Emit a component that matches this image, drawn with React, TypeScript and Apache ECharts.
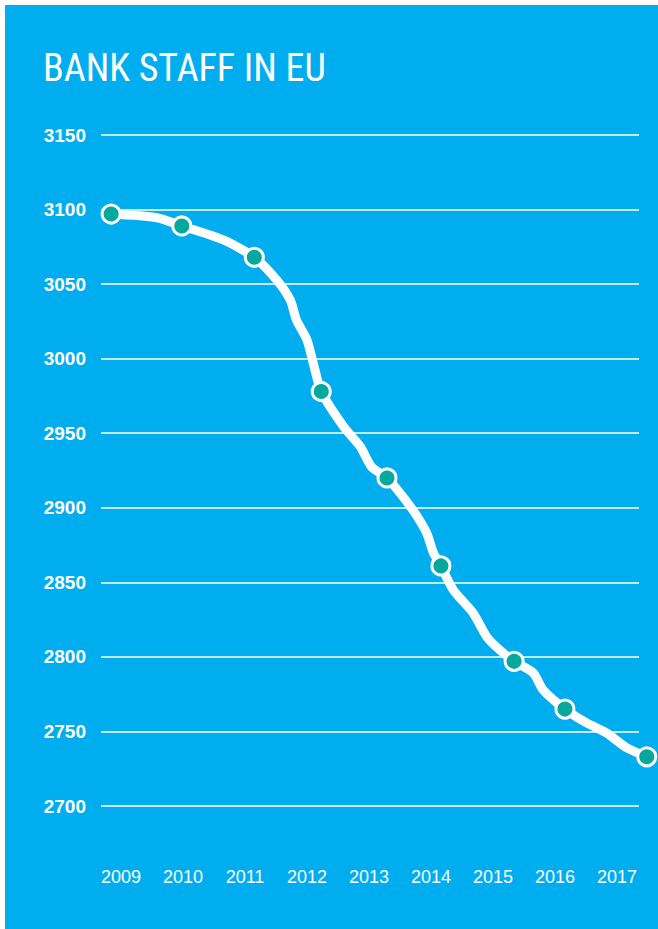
import React, { useEffect, useRef } from "react";
import * as echarts from "echarts";

const yearLabels = [2009, 2010, 2011, 2012, 2013, 2014, 2015, 2016, 2017];
// horizontal position of each marker, in year units on the value axis
const markerPos = [2008.84, 2009.98, 2011.15, 2012.23, 2013.29, 2014.16, 2015.34, 2016.16, 2017.48];
const staff = [3097, 3089, 3068, 2978, 2920, 2861, 2797, 2765, 2733];
const tracePos = [
  2009.58, 2010.65, 2011.51, 2011.73, 2011.83, 2012.0, 2012.1, 2012.59, 2012.86, 2013.04,
  2013.5, 2013.74, 2013.93, 2014.04, 2014.36, 2014.68, 2014.9, 2015.11, 2015.65, 2015.81,
  2016.51, 2016.83, 2017.16,
];
const traceVal = [
  3094.5, 3079.6, 3052.8, 3039.3, 3025.9, 3012.5, 2997.1, 2954.4, 2941, 2927.5,
  2909.9, 2896.5, 2883.1, 2869.7, 2844.9, 2829.4, 2813.5, 2804.6, 2789.2, 2777.8,
  2755.7, 2749, 2738.9,
];
const yMin = 2700;
const yMax = 3150;
const yStep = 50;

const BLUE = "#00AEEF";
const TEAL = "#05A89C";

export default function App() {
  const ref = useRef<HTMLDivElement>(null);
  useEffect(() => {
    if (!ref.current) return;
    const chart = echarts.init(ref.current, null, { renderer: "svg" });
    const points = markerPos.map((x, i) => [x, staff[i]]);
    const trace = points
      .concat(tracePos.map((x, i) => [x, traceVal[i]]))
      .sort((a, b) => a[0] - b[0]);
    chart.setOption({
      animation: false,
      backgroundColor: "#ffffff",
      graphic: [
        {
          type: "rect",
          shape: { x: 5, y: 5, width: 653, height: 924 },
          style: { fill: BLUE },
          z: -10,
        },
        {
          type: "text",
          x: 43,
          y: 68,
          style: {
            text: "BANK STAFF IN EU",
            fill: "#ffffff",
            fontSize: 38,
            fontFamily: "'Liberation Sans Narrow', 'Roboto Condensed', 'Liberation Sans', sans-serif",
            verticalAlign: "middle",
          },
        },
      ],
      grid: { left: 101, right: 19, top: 135, bottom: 123, containLabel: false },
      xAxis: {
        type: "value",
        min: 2008.677,
        max: 2017.355,
        axisLine: { show: false },
        axisTick: { show: false },
        splitLine: { show: false },
        axisLabel: {
          customValues: yearLabels,
          formatter: (v: number) => String(Math.round(v)),
          color: "#ffffff",
          fontSize: 18,
          fontFamily: "'Liberation Sans', Arial, sans-serif",
          margin: 62,
        },
      },
      yAxis: {
        type: "value",
        min: yMin,
        max: yMax,
        interval: yStep,
        axisLine: { show: false },
        axisTick: { show: false },
        splitLine: { lineStyle: { color: "#ffffff", width: 1.5 } },
        axisLabel: {
          color: "#ffffff",
          fontSize: 19,
          fontWeight: "bold",
          fontFamily: "'Liberation Sans', Arial, sans-serif",
          margin: 15,
          formatter: (v: number) => String(v),
        },
      },
      series: [
        {
          type: "line",
          data: trace,
          smooth: 0.25,
          clip: false,
          showSymbol: false,
          symbol: "none",
          lineStyle: { color: "#ffffff", width: 9, cap: "round", join: "round" },
          z: 2,
        },
        {
          type: "scatter",
          data: points,
          clip: false,
          symbol: "circle",
          symbolSize: 18,
          itemStyle: { color: TEAL, borderColor: "#ffffff", borderWidth: 3, opacity: 1 },
          z: 3,
        },
      ],
    });
    return () => chart.dispose();
  }, []);
  return (
    <div
      ref={ref}
      style={{ position: "absolute", left: 0, top: 0, width: 658, height: 929 }}
    />
  );
}
